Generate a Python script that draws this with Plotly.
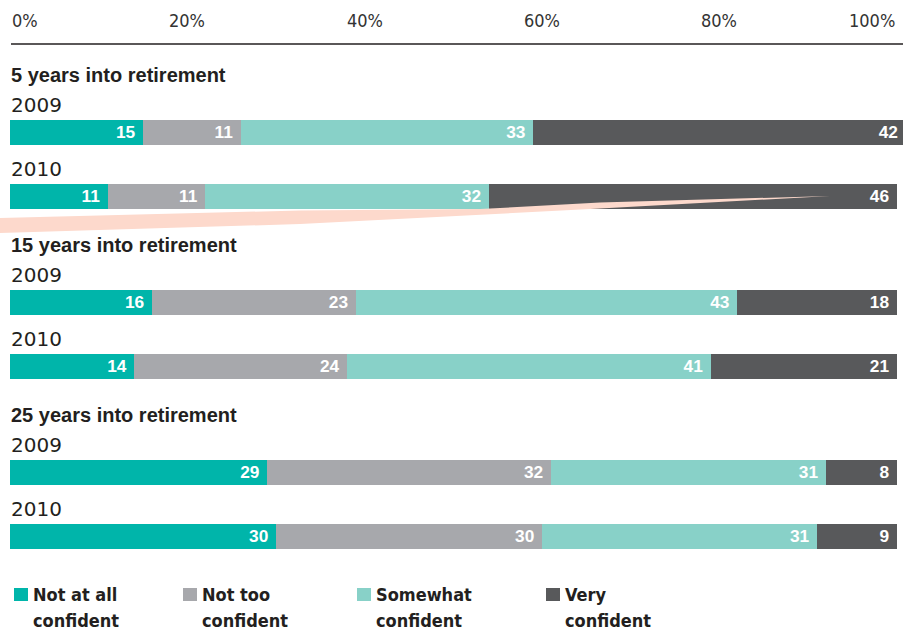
import plotly.graph_objects as go

# ---- data ----
groups = ["5 years into retirement", "15 years into retirement", "25 years into retirement"]
years = ["2009", "2010"]
series_names = ["Not at all confident", "Not too confident", "Somewhat confident", "Very confident"]
# order of rows: (5y 2009, 5y 2010, 15y 2009, 15y 2010, 25y 2009, 25y 2010)
not_at_all = [15, 11, 16, 14, 29, 30]
not_too = [11, 11, 23, 24, 32, 30]
somewhat = [33, 32, 43, 41, 31, 31]
very = [42, 46, 18, 21, 8, 9]
tick_values = [0, 20, 40, 60, 80, 100]

series_values = [not_at_all, not_too, somewhat, very]
colors = ["#00B5AA", "#A7A8AC", "#88D1C8", "#58595B"]

W, H = 915, 631
X0, X1 = 10, 903  # pixel extent of x domain
NARROW = "DejaVu Sans Condensed, Liberation Sans, sans-serif"

# layout positions (pixel coordinates, y axis runs top->bottom)
group_tops = [75 + 170 * i for i in range(len(groups))]
bar_y = []
year_y = []
for gt in group_tops:
    bar_y += [gt + 57, gt + 121]
    year_y += [gt + 30, gt + 94]

fig = go.Figure()
for name, vals, col in zip(series_names, series_values, colors):
    fig.add_trace(go.Bar(
        x=vals, y=bar_y, orientation="h", width=25, name=name,
        marker=dict(color=col, line=dict(width=0)),
        text=vals, texttemplate="%{text}\u00a0", textposition="inside",
        insidetextanchor="end", textangle=0,
        textfont=dict(family="Liberation Sans", size=20, color="white", weight="bold"),
        showlegend=False, hoverinfo="x+name",
    ))

annotations = []
# tick labels
for tv in tick_values:
    anchor = "left" if tv == tick_values[0] else ("right" if tv == tick_values[-1] else "center")
    annotations.append(dict(
        x=tv, xref="x", y=20, yref="y", text=f"{tv}%", showarrow=False,
        xanchor=anchor, yanchor="middle",
        font=dict(family=NARROW, size=18, color="#333333"),
    ))
# group headers and year labels
for gi, (g, gt) in enumerate(zip(groups, group_tops)):
    annotations.append(dict(
        x=9 / W, xref="paper", y=gt, yref="y", text=f"<b>{g}</b>", showarrow=False,
        xanchor="left", yanchor="middle",
        font=dict(family="Liberation Sans", size=20, color="#231F20"),
    ))
    for yi, yr in enumerate(years):
        annotations.append(dict(
            x=9 / W, xref="paper", y=year_y[gi * 2 + yi], yref="y", text=yr, showarrow=False,
            xanchor="left", yanchor="middle",
            font=dict(family="DejaVu Sans", size=20, color="#231F20"),
        ))

shapes = []
# top axis line
shapes.append(dict(type="line", xref="paper", yref="y", x0=11 / W, x1=X1 / W, y0=44, y1=44,
                   line=dict(color="#231F20", width=1.5)))
# decorative wedge
wedge_pts = [(0, 218), (300, 210.5), (480, 209), (600, 202.5), (830, 196),
             (600, 208.5), (300, 224), (0, 233)]
path = "M " + " L ".join(f"{x / W},{y}" for x, y in wedge_pts) + " Z"
shapes.append(dict(type="path", xref="paper", yref="y", path=path,
                   fillcolor="#FDD9CC", line=dict(width=0), layer="above"))

# legend (manual)
legend_x = [14, 183, 357, 546]
for name, col, lx in zip(series_names, colors, legend_x):
    shapes.append(dict(type="rect", xref="paper", yref="y", x0=lx / W, x1=(lx + 14) / W,
                       y0=588, y1=601, fillcolor=col, line=dict(width=0)))
    for li, line_text in enumerate(name.rsplit(" ", 1)):
        annotations.append(dict(
            x=(lx + 17) / W, xref="paper", y=594 + 26 * li, yref="y", text=f"<b>{line_text}</b>",
            showarrow=False, xanchor="left", yanchor="middle", align="left",
            font=dict(family=NARROW, size=18, color="#231F20"),
        ))

fig.update_layout(
    width=W, height=H, barmode="stack",
    margin=dict(l=0, r=0, t=0, b=0),
    paper_bgcolor="white", plot_bgcolor="white",
    xaxis=dict(range=[0, 100.7], domain=[X0 / W, X1 / W], visible=False, fixedrange=True),
    yaxis=dict(range=[H, 0], domain=[0, 1], visible=False, fixedrange=True),
    annotations=annotations, shapes=shapes,
)

fig.write_html("out.html", config={"displayModeBar": False},
               post_script="document.body.style.margin='0';document.body.style.overflow='hidden';")
